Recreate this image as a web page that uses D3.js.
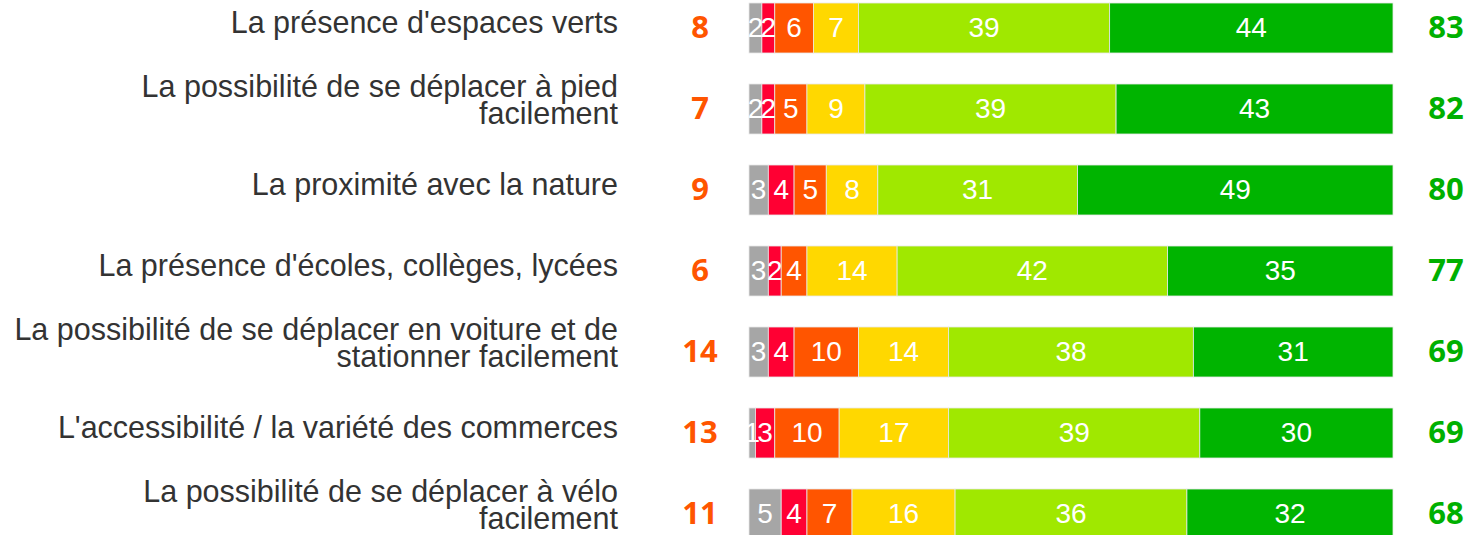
<!DOCTYPE html>
<html>
<head>
<meta charset="utf-8">
<script src="https://cdn.jsdelivr.net/npm/d3@7"></script>
<style>
  body { margin: 0; background: #fff; overflow: hidden; }
</style>
</head>
<body>
<div id="chart"></div>
<script>
// categories (each line of a label is an entry)
const categories = [
    ["La présence d'espaces verts"],
    ["La possibilité de se déplacer à pied", "facilement"],
    ["La proximité avec la nature"],
    ["La présence d'écoles, collèges, lycées"],
    ["La possibilité de se déplacer en voiture et de", "stationner facilement"],
    ["L'accessibilité / la variété des commerces"],
    ["La possibilité de se déplacer à vélo", "facilement"]
];

// series values, one array per segment
const nsp = [2, 2, 3, 3, 3, 1, 5];
const pasDuTout = [2, 2, 4, 2, 4, 3, 4];
const plutotPas = [6, 5, 5, 4, 10, 10, 7];
const moyen = [7, 9, 8, 14, 14, 17, 16];
const plutot = [39, 39, 31, 42, 38, 39, 36];
const tout = [44, 43, 49, 35, 31, 30, 32];

// totals shown on each side
const totalNeg = [8, 7, 9, 6, 14, 13, 11];
const totalPos = [83, 82, 80, 77, 69, 69, 68];

const series = [nsp, pasDuTout, plutotPas, moyen, plutot, tout];
const colors = ["#a6a6a6", "#ff0033", "#ff5500", "#ffd800", "#a0e800", "#00b400"];

const width = 1467, height = 535;

const svg = d3.select("#chart").append("svg")
    .attr("width", width)
    .attr("height", height);

const x = d3.scaleLinear().domain([0, 100]).range([749, 1393]);

const y = d3.scaleBand()
    .domain(d3.range(categories.length))
    .range([3 - 15.5, 3 - 15.5 + 81 * categories.length])
    .paddingInner(31 / 81)
    .paddingOuter(15.5 / 81);

// stacked data
const rows = categories.map((c, i) => {
    let acc = 0;
    return series.map((s, k) => {
        const seg = { row: i, k: k, x0: acc, x1: acc + s[i], v: s[i] };
        acc += s[i];
        return seg;
    });
});

const rowG = svg.selectAll("g.row")
    .data(rows)
    .join("g")
    .attr("class", "row")
    .attr("transform", (d, i) => `translate(0, ${y(i)})`);

rowG.selectAll("rect")
    .data(d => d)
    .join("rect")
    .attr("x", d => x(d.x0))
    .attr("width", d => x(d.x1) - x(d.x0))
    .attr("height", y.bandwidth())
    .attr("fill", d => colors[d.k])
    .attr("stroke", "#e8e8e8")
    .attr("stroke-width", 0.8);

rowG.selectAll("text.val")
    .data(d => d)
    .join("text")
    .attr("class", "val")
    .attr("x", d => (x(d.x0) + x(d.x1)) / 2)
    .attr("y", y.bandwidth() / 2 + 2)
    .attr("text-anchor", "middle")
    .attr("dominant-baseline", "middle")
    .attr("font-family", "Liberation Sans, Arial, sans-serif")
    .attr("font-size", "28px")
    .attr("fill", "#fff")
    .text(d => d.v);

// category labels
const labels = svg.selectAll("text.cat")
    .data(categories)
    .join("text")
    .attr("class", "cat")
    .attr("text-anchor", "end")
    .attr("font-family", "Liberation Sans, Arial, sans-serif")
    .attr("font-size", "30.5px")
    .attr("fill", "#333");

labels.each(function (lines, i) {
    const cy = y(i) + y.bandwidth() / 2 - (lines.length > 1 ? 7 : 3);
    const lh = 27;
    const top = cy - (lines.length - 1) * lh / 2;
    d3.select(this).selectAll("tspan")
        .data(lines)
        .join("tspan")
        .attr("x", 618)
        .attr("y", (d, j) => top + j * lh)
        .attr("dominant-baseline", "middle")
        .text(d => d);
});

// side totals
svg.selectAll("text.neg")
    .data(totalNeg)
    .join("text")
    .attr("class", "neg")
    .attr("x", 700)
    .attr("y", (d, i) => y(i) + y.bandwidth() / 2 + 2)
    .attr("text-anchor", "middle")
    .attr("dominant-baseline", "middle")
    .attr("font-family", "Open Sans, sans-serif")
    .attr("font-weight", "bold")
    .attr("font-size", "31px")
    .attr("fill", "#ff5500")
    .text(d => d);

svg.selectAll("text.pos")
    .data(totalPos)
    .join("text")
    .attr("class", "pos")
    .attr("x", 1446)
    .attr("y", (d, i) => y(i) + y.bandwidth() / 2 + 2)
    .attr("text-anchor", "middle")
    .attr("dominant-baseline", "middle")
    .attr("font-family", "Open Sans, sans-serif")
    .attr("font-weight", "bold")
    .attr("font-size", "31px")
    .attr("fill", "#00b000")
    .text(d => d);
</script>
</body>
</html>
